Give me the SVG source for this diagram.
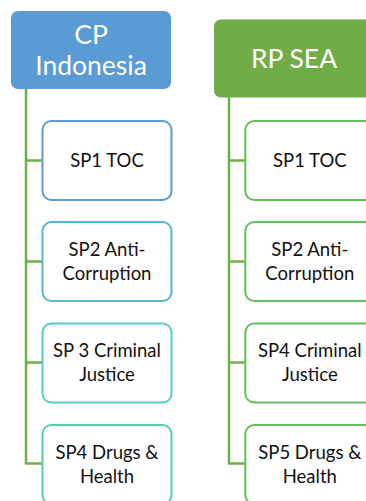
<svg xmlns="http://www.w3.org/2000/svg" width="366" height="501" viewBox="0 0 366 501">
<style>
.hd{font-family:Lato,"Liberation Sans",sans-serif;font-size:26.5px;fill:#fff;text-anchor:middle}
.tx{font-family:Lato,"Liberation Sans",sans-serif;font-size:18.5px;fill:#111;text-anchor:middle}
.bx{fill:#fff;stroke-width:2}
.ln{stroke:#70AD47;stroke-width:2.5;fill:none}
</style>
<g id="connectors">
<path class="ln" d="M26 89V464.5M26 160.5H43M26 261.5H43M26 362.5H43M26 463.5H43"/>
<path class="ln" d="M229 97V464.5M229 160.5H246M229 261.5H246M229 362.5H246M229 463.5H246"/>
</g>
<g id="cp">
<rect x="11" y="11" width="160" height="78" rx="7" fill="#5B9BD5"/>
<text class="hd" x="91" y="43.5">CP</text>
<text class="hd" x="91" y="74.5">Indonesia</text>
</g>
<g id="cp-sp1">
<rect class="bx" x="42.5" y="121" width="129" height="79" rx="9" stroke="#5B9BD5"/>
<text class="tx" x="107" y="167">SP1 TOC</text>
</g>
<g id="cp-sp2">
<rect class="bx" x="42.5" y="222" width="129" height="79" rx="9" stroke="#55B6D6"/>
<text class="tx" x="107" y="255.7">SP2 Anti-</text>
<text class="tx" x="107" y="280">Corruption</text>
</g>
<g id="cp-sp3">
<rect class="bx" x="42.5" y="323.5" width="129" height="79" rx="9" stroke="#55CDC6"/>
<text class="tx" x="107" y="357">SP 3 Criminal</text>
<text class="tx" x="107" y="381.3">Justice</text>
</g>
<g id="cp-sp4">
<rect class="bx" x="42.5" y="425" width="129" height="79" rx="9" stroke="#55D0AA"/>
<text class="tx" x="107" y="458.5">SP4 Drugs &amp;</text>
<text class="tx" x="107" y="482.8">Health</text>
</g>
<g id="rp">
<rect x="214" y="19.5" width="160" height="78" rx="7" fill="#70AD47"/>
<text class="hd" x="294" y="67.5">RP SEA</text>
</g>
<g id="rp-sp1">
<rect class="bx" x="245.3" y="121" width="129" height="79" rx="9" stroke="#62BE5A"/>
<text class="tx" x="309.8" y="167">SP1 TOC</text>
</g>
<g id="rp-sp2">
<rect class="bx" x="245.3" y="222" width="129" height="79" rx="9" stroke="#62BE5A"/>
<text class="tx" x="309.8" y="255.7">SP2 Anti-</text>
<text class="tx" x="309.8" y="280">Corruption</text>
</g>
<g id="rp-sp4">
<rect class="bx" x="245.3" y="323.5" width="129" height="79" rx="9" stroke="#62BE5A"/>
<text class="tx" x="309.8" y="357">SP4 Criminal</text>
<text class="tx" x="309.8" y="381.3">Justice</text>
</g>
<g id="rp-sp5">
<rect class="bx" x="245.3" y="425" width="129" height="79" rx="9" stroke="#62BE5A"/>
<text class="tx" x="309.8" y="458.5">SP5 Drugs &amp;</text>
<text class="tx" x="309.8" y="482.8">Health</text>
</g>
</svg>
